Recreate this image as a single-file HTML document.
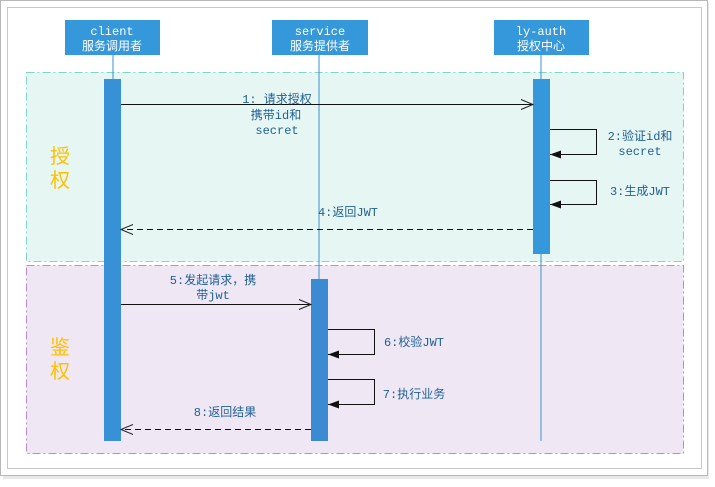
<!DOCTYPE html>
<html><head><meta charset="utf-8"><style>
body{margin:0;background:#fff;width:715px;height:482px;overflow:hidden}
svg text{font-family:"Liberation Mono","Noto Sans CJK SC",monospace;font-size:12px;fill:#1f5f94}
</style></head><body>
<svg width="715" height="482" xmlns="http://www.w3.org/2000/svg">
<defs>
<marker id="open" markerWidth="14" markerHeight="12" refX="13" refY="6" orient="auto" markerUnits="userSpaceOnUse"><path d="M1,1 L13,6 L1,11" fill="none" stroke="#222" stroke-width="1"/></marker>
<marker id="fill" markerWidth="12" markerHeight="8" refX="11" refY="4" orient="auto" markerUnits="userSpaceOnUse"><path d="M0,0 L11,4 L0,8 Z" fill="#111"/></marker>
</defs>
<rect x="3" y="3" width="706" height="476" fill="#e8e8e8"/>
<rect x="0.5" y="0.5" width="707" height="475" fill="#fff" stroke="#b8b8b8"/>
<rect x="7.5" y="7.5" width="694" height="461" fill="#fff" stroke="#c8c8c8"/>
<rect x="26.5" y="72.5" width="657" height="189" fill="#e6f6f3" stroke="#7fd6c8" stroke-dasharray="8,3,2,3"/>
<rect x="26.5" y="265.5" width="657" height="188" fill="#efe8f4" stroke="#b48ed0" stroke-dasharray="8,3,2,3"/>
<line x1="113" y1="55" x2="113" y2="441" stroke="#3b8fd0"/>
<line x1="319" y1="55" x2="319" y2="441" stroke="#3b8fd0"/>
<line x1="541" y1="55" x2="541" y2="441" stroke="#3b8fd0"/>
<rect x="65" y="20" width="95" height="35" fill="#3598db"/>
<rect x="272" y="20" width="96" height="35" fill="#3598db"/>
<rect x="494" y="20" width="95" height="35" fill="#3598db"/>
<g style="fill:#fff" text-anchor="middle">
<text x="112" y="35" style="fill:#fff">client</text><text x="112" y="50" style="fill:#fff">服务调用者</text>
<text x="320" y="35" style="fill:#fff">service</text><text x="320" y="50" style="fill:#fff">服务提供者</text>
<text x="541" y="35" style="fill:#fff">ly-auth</text><text x="541" y="50" style="fill:#fff">授权中心</text>
</g>
<rect x="104" y="79" width="17" height="362" fill="#3890d6"/>
<rect x="533" y="79" width="17" height="175" fill="#3598db"/>
<rect x="311" y="279" width="17" height="162" fill="#3a8bd2"/>
<g font-size="20" style="font-family:'Noto Sans CJK SC',sans-serif">
<text x="50" y="163" style="fill:#ffc000;font-size:20px;font-family:'Noto Sans CJK SC',sans-serif">授</text>
<text x="50" y="187" style="fill:#ffc000;font-size:20px;font-family:'Noto Sans CJK SC',sans-serif">权</text>
<text x="50" y="354" style="fill:#ffc000;font-size:20px;font-family:'Noto Sans CJK SC',sans-serif">鉴</text>
<text x="50" y="378" style="fill:#ffc000;font-size:20px;font-family:'Noto Sans CJK SC',sans-serif">权</text>
</g>
<line x1="121" y1="104.5" x2="533" y2="104.5" stroke="#111" marker-end="url(#open)"/>
<path d="M550,129.5 H596.5 V154.5 H550" fill="none" stroke="#111" marker-end="url(#fill)"/>
<path d="M550,180.5 H596.5 V204.5 H550" fill="none" stroke="#111" marker-end="url(#fill)"/>
<line x1="533" y1="229.5" x2="121" y2="229.5" stroke="#111" stroke-dasharray="6,4" marker-end="url(#open)"/>
<line x1="121" y1="304.5" x2="311" y2="304.5" stroke="#111" marker-end="url(#open)"/>
<path d="M328,329.5 H374.5 V354.5 H328" fill="none" stroke="#111" marker-end="url(#fill)"/>
<path d="M328,379.5 H374.5 V404.5 H328" fill="none" stroke="#111" marker-end="url(#fill)"/>
<line x1="311" y1="429.5" x2="121" y2="429.5" stroke="#111" stroke-dasharray="6,4" marker-end="url(#open)"/>
<g text-anchor="middle">
<text x="277" y="103">1: 请求授权</text><text x="276" y="119">携带id和</text><text x="277" y="134">secret</text>
<text x="640" y="140">2:验证id和</text><text x="640" y="155">secret</text>
<text x="640" y="195">3:生成JWT</text>
<text x="348" y="216">4:返回JWT</text>
<text x="213" y="284">5:发起请求，携</text><text x="213" y="299">带jwt</text>
<text x="414" y="346">6:校验JWT</text>
<text x="414" y="398">7:执行业务</text>
<text x="225" y="416">8:返回结果</text>
</g>
</svg>
</body></html>
